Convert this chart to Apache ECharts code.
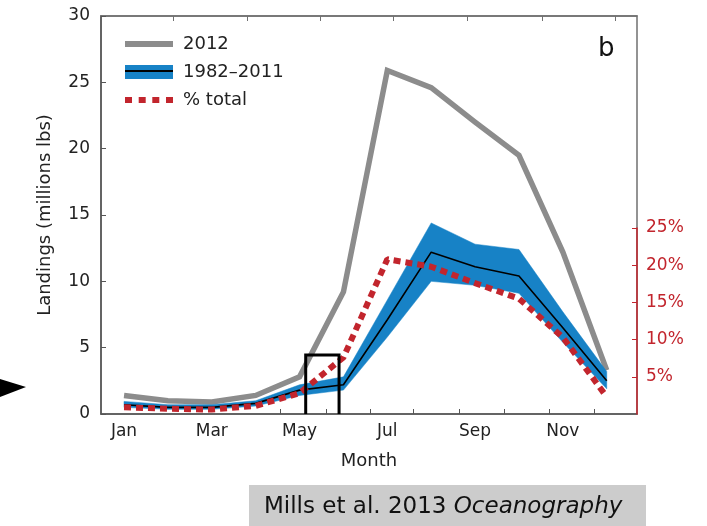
<!DOCTYPE html>
<html>
<head>
<meta charset="utf-8">
<script src="https://cdn.jsdelivr.net/npm/echarts@6/dist/echarts.min.js"></script>
<style>html,body{margin:0;padding:0;background:#fff}#c{width:707px;height:526px}</style>
</head>
<body>
<div id="c"></div>
<script>
// ---- data ----
const months = ['Jan','Feb','Mar','Apr','May','Jun','Jul','Aug','Sep','Oct','Nov','Dec'];
const monthIndex = [1,2,3,4,5,6,7,8,9,10,11,12];
const labelMonths = [1,3,5,7,9,11];
const bottomTicks = [4.57,5.6,6.6,7.6,8.63,9.66,10.69,11.71];
const topTicks = [2.12,3.81,5.47,7.14,8.83,10.52,12.19];
const landings2012 = [1.4,1.0,0.9,1.4,2.8,9.2,25.9,24.6,22.0,19.5,12.2,3.3];
const mean8211 = [0.7,0.5,0.5,0.8,1.8,2.2,7.1,12.2,11.1,10.4,6.5,2.5];
const lower8211 = [0.5,0.35,0.35,0.6,1.4,1.8,5.8,10.0,9.7,9.1,5.4,1.9];
const upper8211 = [0.95,0.7,0.7,1.0,2.2,2.8,8.6,14.4,12.8,12.4,7.7,3.2];
const pctTotal = [0.9,0.7,0.6,1.1,2.8,7.6,20.8,19.8,17.6,15.5,10.3,2.3];
const boxX = [5.14,5.9];
const boxTop = 4.45;
const leftTicks = [0,30,5];
const pctRange = [0,25,5];

const FONT = 'DejaVu Sans';
const RED = '#c2252d';
const BLUE = '#1782c6';
const GRAY = '#8c8c8c';
const AX = '#555';

const pair = (arr) => monthIndex.map((m,i)=>[m, arr[i]]);
const xMin = 0.475, xMax = 12.69;

const chart = echarts.init(document.getElementById('c'), null, {renderer:'canvas'});
const lineIcon = 'path://M0,0L1,0L1,0.01Z M0,40L480,40L480,100L0,100Z M0,140L1,140L1,140.01Z';
const dotsIcon = 'path://M0,0L1,0L1,0.01Z M0,40L70,40L70,100L0,100Z M137,40L207,40L207,100L137,100Z M273,40L343,40L343,100L273,100Z M410,40L480,40L480,100L410,100Z M0,140L1,140L1,140.01Z';
const thinIcon = 'path://M0,0L1,0L1,0.01Z M0,60L480,60L480,80L0,80Z M0,140L1,140L1,140.01Z';

const bandData = monthIndex.map((m,i)=>[m, lower8211[i], upper8211[i]]);

function renderBand(params, api) {
  if (params.dataIndex !== 0) return;
  const n = bandData.length;
  const top = [], bot = [];
  for (let i = 0; i < n; i++) {
    top.push(api.coord([bandData[i][0], bandData[i][2]]));
    bot.push(api.coord([bandData[i][0], bandData[i][1]]));
  }
  const pts = top.concat(bot.reverse());
  return {type:'polygon', shape:{points:pts}, style:{fill:BLUE, stroke:BLUE, lineWidth:0.5}};
}

chart.setOption({
  animation:false,
  textStyle:{fontFamily:FONT},
  title:{text:'b', left:593, top:31, textStyle:{fontSize:26, fontWeight:'normal', color:'#111', fontFamily:FONT}},
  grid:[
    {left:101, right:70, top:16, bottom:112, show:true, borderColor:'#707070', borderWidth:1.5},
    {left:101, right:70, top:228, bottom:112}
  ],
  legend:[
    {left:125, top:35, orient:'vertical', itemWidth:48, itemHeight:14, itemGap:10, padding:0, selectedMode:false,
     textStyle:{fontSize:18, color:'#222', fontFamily:FONT, padding:[0,0,0,5]},
     data:[
       {name:'2012', icon:lineIcon, itemStyle:{color:GRAY, borderWidth:0}},
       {name:'1982–2011', icon:'rect', itemStyle:{color:BLUE, borderWidth:0}},
       {name:'% total', icon:dotsIcon, itemStyle:{color:RED, borderWidth:0}}
     ]},
    {left:125, top:62, orient:'vertical', itemWidth:48, itemHeight:14, padding:0, selectedMode:false,
     textStyle:{fontSize:18, color:'rgba(0,0,0,0)', fontFamily:FONT, padding:[0,0,0,5]},
     data:[{name:'1982–2011', icon:thinIcon, itemStyle:{color:'#000', borderWidth:0}}]}
  ],
  xAxis:[
    {type:'value', gridIndex:0, position:'bottom', min:xMin, max:xMax,
     axisLine:{show:true, lineStyle:{color:AX, width:1.5}},
     axisTick:{show:true, inside:true, length:5, customValues:bottomTicks, lineStyle:{color:AX}},
     axisLabel:{customValues:labelMonths, formatter:(v)=>months[Math.round(v)-1], fontSize:17, color:'#222', margin:9, fontFamily:FONT},
     splitLine:{show:false},
     name:'Month', nameLocation:'middle', nameGap:38, nameTextStyle:{fontSize:18, color:'#222', fontFamily:FONT}},
    {type:'value', gridIndex:0, position:'top', min:xMin, max:xMax,
     axisLine:{show:true, lineStyle:{color:'#707070', width:1.5}},
     axisTick:{show:true, inside:true, length:5, customValues:topTicks, lineStyle:{color:'#707070'}},
     axisLabel:{show:false}, splitLine:{show:false}},
    {type:'value', gridIndex:1, min:xMin, max:xMax, show:false}
  ],
  yAxis:[
    {type:'value', gridIndex:0, position:'left', min:leftTicks[0], max:leftTicks[1], interval:leftTicks[2],
     axisLine:{show:true, lineStyle:{color:AX, width:1.5}},
     axisTick:{show:true, inside:true, length:5, lineStyle:{color:AX}},
     axisLabel:{fontSize:17, color:'#222', margin:11, fontFamily:FONT},
     splitLine:{show:false},
     name:'Landings (millions lbs)', nameLocation:'middle', nameGap:47, nameRotate:90,
     nameTextStyle:{fontSize:18, color:'#222', fontFamily:FONT}},
    {type:'value', gridIndex:1, position:'right', min:pctRange[0], max:pctRange[1], interval:pctRange[2], z:5,
     axisLine:{show:true, lineStyle:{color:RED, width:1.5}},
     axisTick:{show:true, inside:true, length:5, lineStyle:{color:RED}},
     axisLabel:{fontSize:17, color:RED, margin:9, showMinLabel:false, formatter:'{value}%', fontFamily:FONT},
     splitLine:{show:false}}
  ],
  series:[
    {name:'2012', type:'line', xAxisIndex:0, yAxisIndex:0, data:pair(landings2012), symbol:'none', z:2,
     lineStyle:{color:GRAY, width:5.5, join:'miter'}},
    {name:'1982–2011 band', type:'custom', xAxisIndex:0, yAxisIndex:0, z:3, clip:true,
     data:bandData, renderItem:renderBand, encode:{x:0, y:[1,2]}},
    {name:'1982–2011', type:'line', xAxisIndex:0, yAxisIndex:0, data:pair(mean8211), symbol:'none', z:4,
     lineStyle:{color:'#000', width:1.6}},
    {name:'% total', type:'line', xAxisIndex:2, yAxisIndex:1, data:pair(pctTotal), symbol:'none', z:5, clip:false,
     lineStyle:{color:RED, width:6, type:[7,5], cap:'butt'}},
    {name:'box', type:'line', xAxisIndex:0, yAxisIndex:0, symbol:'none', z:6,
     data:[[boxX[0],0],[boxX[0],boxTop],[boxX[1],boxTop],[boxX[1],0]],
     lineStyle:{color:'#000', width:3, join:'miter'}}
  ],
  graphic:[
    {type:'polygon', shape:{points:[[0,379],[26,387],[0,397]]}, style:{fill:'#000'}},
    {type:'rect', shape:{x:249, y:485, width:397, height:41}, style:{fill:'#cccccc'}},
    {type:'text', x:264, y:507, style:{
      text:'{n|Mills et al. 2013 }{i|Oceanography}', verticalAlign:'middle',
      rich:{n:{fontSize:23, fontFamily:FONT, fill:'#111'}, i:{fontSize:23, fontFamily:FONT, fontStyle:'italic', fill:'#111'}}
    }}
  ]
});
</script>
</body>
</html>
